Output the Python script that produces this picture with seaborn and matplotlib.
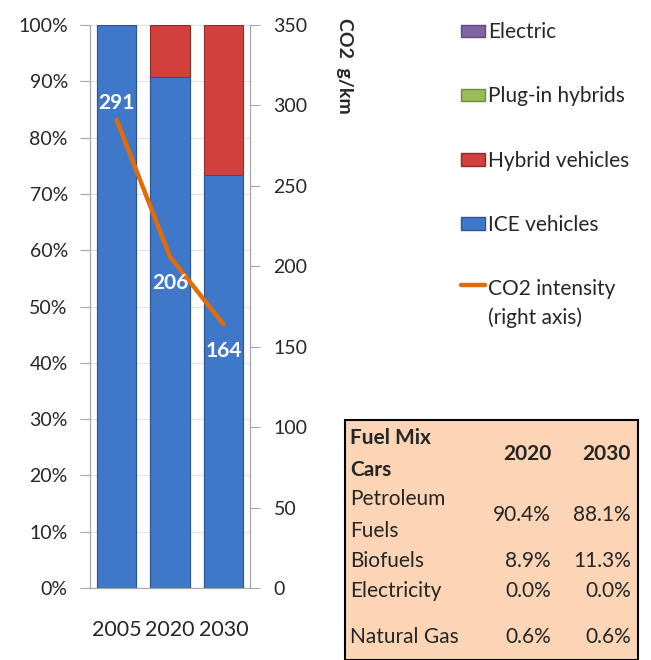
import matplotlib
matplotlib.use("Agg")
import matplotlib.pyplot as plt
from matplotlib.patches import Patch, Rectangle
from matplotlib.lines import Line2D
from matplotlib.legend_handler import HandlerLine2D
from matplotlib.transforms import Affine2D
import seaborn as sns

# data
years = ["2005", "2020", "2030"]
ice_share = [100.0, 90.8, 73.4]
hybrid_share = [0.0, 9.2, 26.6]
plugin_share = [0.0, 0.0, 0.0]
electric_share = [0.0, 0.0, 0.0]
co2_intensity = [291, 206, 164]

fuel_rows = ["Petroleum\nFuels", "Biofuels", "Electricity", "Natural Gas"]
fuel_2020 = ["90.4%", "8.9%", "0.0%", "0.6%"]
fuel_2030 = ["88.1%", "11.3%", "0.0%", "0.6%"]

sns.set_style("white")
plt.rcParams["font.family"] = ["Lato", "DejaVu Sans"]

BLUE = "#3F78C8"
RED = "#D23F3C"
GREEN = "#9BBB59"
PURPLE = "#8064A2"
ORANGE = "#E36C0A"
AXIS_GREY = "#A6A6A6"


class FirstLineHandler(HandlerLine2D):
    """Put the line handle next to the first line of a two-line label"""
    def create_artists(self, legend, orig_handle, xdescent, ydescent,
                       width, height, fontsize, trans):
        artists = super().create_artists(legend, orig_handle, xdescent, ydescent,
                                         width, height, fontsize, trans)
        shift = Affine2D().translate(0, fontsize * 0.95)
        for a in artists:
            a.set_transform(shift + a.get_transform())
        return artists


fig = plt.figure(figsize=(6.51, 6.6), dpi=100)
ax = fig.add_axes([90 / 651, 1 - 588 / 660, 160 / 651, 563 / 660])

totals = [i + h + p + e for i, h, p, e in zip(ice_share, hybrid_share, plugin_share, electric_share)]
sns.barplot(x=years, y=totals, color=RED, saturation=1, width=0.74,
            edgecolor="#8E2A28", linewidth=0.8, ax=ax, zorder=2)
sns.barplot(x=years, y=ice_share, color=BLUE, saturation=1, width=0.74,
            edgecolor="#2B5590", linewidth=0.8, ax=ax, zorder=3)

ax.set_xlim(-0.5, 2.5)
ax.set_ylim(0, 100)
ax.set_yticks(range(0, 101, 10))
ax.set_yticklabels([f"{v}%" for v in range(0, 101, 10)])
ax.set_xlabel("")
ax.set_ylabel("")
ax.yaxis.grid(True, color="#DDE4EE", linewidth=0.8, zorder=0)
ax.set_axisbelow(True)
ax.tick_params(axis="y", length=7, color=AXIS_GREY, labelsize=14, pad=9)
ax.set_xticks([-0.5, 0.5, 1.5, 2.5], minor=True)
ax.tick_params(axis="x", which="major", length=0, labelsize=15.5, pad=23)
ax.tick_params(axis="x", which="minor", length=7, color=AXIS_GREY)
for side in ["left", "bottom", "right"]:
    ax.spines[side].set_color(AXIS_GREY)
ax.spines["top"].set_visible(False)

ax2 = ax.twinx()
sns.lineplot(x=[0, 1, 2], y=co2_intensity, color=ORANGE, linewidth=3.2, ax=ax2)
ax2.set_ylim(0, 350)
ax2.set_yticks(range(0, 351, 50))
ax2.tick_params(axis="y", length=7, color=AXIS_GREY, labelsize=14, pad=10)
ax2.set_ylabel("")
for side in ["left", "bottom", "right"]:
    ax2.spines[side].set_color(AXIS_GREY)
ax2.spines["top"].set_visible(False)

label_offsets = [12, -19, -19]
for i, (val, off) in enumerate(zip(co2_intensity, label_offsets)):
    ax2.annotate(str(val), (i, val), xytext=(0, off), textcoords="offset points",
                 ha="center", va="center", color="white", fontsize=15, fontweight="bold")

fig.text(345 / 651, 1 - 18 / 660, "CO2  g/km", rotation=270, ha="center", va="top",
         fontsize=14, fontweight="bold")

co2_handle = Line2D([], [], color=ORANGE, linewidth=3.2)
handles = [
    Patch(facecolor=PURPLE, edgecolor="#5E497A"),
    Patch(facecolor=GREEN, edgecolor="#6F8A3C"),
    Patch(facecolor=RED, edgecolor="#8E2A28"),
    Patch(facecolor=BLUE, edgecolor="#2B5590"),
    co2_handle,
]
labels = ["Electric", "Plug-in hybrids", "Hybrid vehicles", "ICE vehicles",
          "CO2 intensity\n(right axis)"]
leg = fig.legend(handles, labels, loc="upper left", bbox_to_anchor=(453 / 651, 1 - 14 / 660),
                 frameon=False, fontsize=15, handlelength=1.15, handleheight=0.55,
                 handletextpad=0.15, labelspacing=2.12, borderaxespad=0,
                 handler_map={co2_handle: FirstLineHandler()})
leg.get_texts()[-1].set_linespacing(1.5)

# fuel mix box
fig.patches.append(Rectangle((345 / 651, 0), 293 / 651, 240 / 660,
                             transform=fig.transFigure, facecolor="#FBD5B5",
                             edgecolor="black", linewidth=1.5, zorder=0))
fs = 15
fig.text(350 / 651, 1 - 454 / 660, "Fuel Mix\nCars", fontsize=fs, fontweight="bold",
         va="center", ha="left", linespacing=1.7)
fig.text(551 / 651, 1 - 454 / 660, "2020", fontsize=fs, fontweight="bold", va="center", ha="right")
fig.text(631 / 651, 1 - 454 / 660, "2030", fontsize=fs, fontweight="bold", va="center", ha="right")
row_y = [515, 561, 591, 637]
for name, v20, v30, y in zip(fuel_rows, fuel_2020, fuel_2030, row_y):
    fig.text(350 / 651, 1 - y / 660, name, fontsize=fs, va="center", ha="left", linespacing=1.7)
    fig.text(551 / 651, 1 - y / 660, v20, fontsize=fs, va="center", ha="right")
    fig.text(631 / 651, 1 - y / 660, v30, fontsize=fs, va="center", ha="right")

fig.savefig("out.png", dpi=100)
